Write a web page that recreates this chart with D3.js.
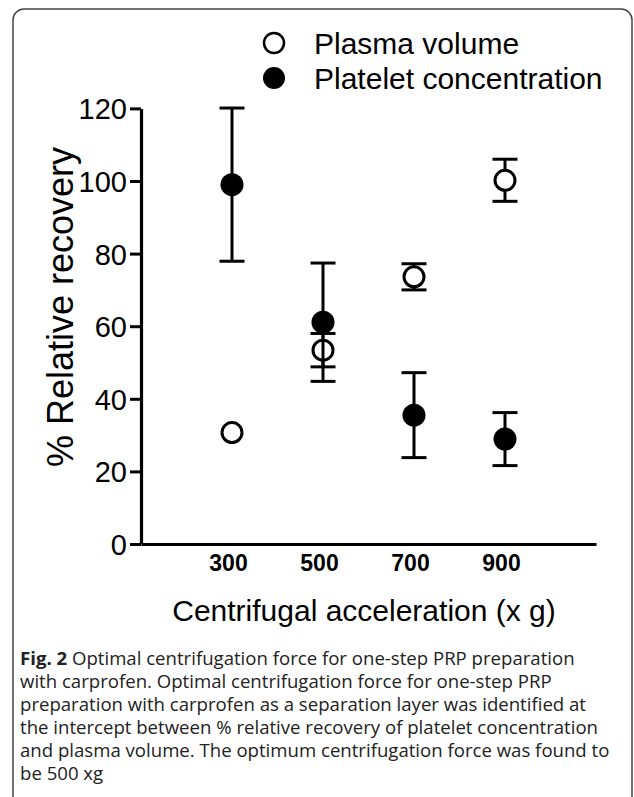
<!DOCTYPE html>
<html><head><meta charset="utf-8">
<script src="https://cdn.jsdelivr.net/npm/d3@7"></script>
<style>
html,body{margin:0;padding:0;background:#fff;}
svg{display:block;}
</style></head>
<body>
<svg id="chart" width="634" height="797"></svg>
<script>
// ---- data ----
const categories = [300, 500, 700, 900];
const plasmaMean = [30.7, 53.4, 73.6, 100.2];
const plasmaSD   = [0, 4.6, 3.6, 5.8];
const plateletMean = [99.0, 61.1, 35.5, 28.9];
const plateletSD   = [21.1, 16.3, 11.7, 7.3];
const yTicks = [0, 20, 40, 60, 80, 100, 120];
const seriesNames = ["Plasma volume", "Platelet concentration"];
const captionBold = "Fig. 2";
const captionLines = [
  " Optimal centrifugation force for one-step PRP preparation",
  "with carprofen. Optimal centrifugation force for one-step PRP",
  "preparation with carprofen as a separation layer was identified at",
  "the intercept between % relative recovery of platelet concentration",
  "and plasma volume. The optimum centrifugation force was found to",
  "be 500 xg"
];

const svg = d3.select("#chart");
const font = "'Liberation Sans', Arial, sans-serif";

// frame
svg.append("rect").attr("x", 13).attr("y", 9).attr("width", 619).attr("height", 800)
  .attr("rx", 11).attr("fill", "none").attr("stroke", "#444").attr("stroke-width", 1.5);

const x = d3.scaleLinear().domain([100, 1100]).range([141, 596]);
const y = d3.scaleLinear().domain([0, 120]).range([544, 108.4]);

// y axis
const yAxis = svg.append("g").attr("transform", "translate(141,0)")
  .call(d3.axisLeft(y).tickValues(yTicks).tickSize(11).tickPadding(3).tickSizeOuter(0));
yAxis.select(".domain").attr("stroke", "#000").attr("stroke-width", 3.2);
yAxis.selectAll(".tick line").attr("stroke", "#000").attr("stroke-width", 3);
yAxis.selectAll(".tick text").attr("font-family", font).attr("font-size", 29).attr("fill", "#000")
  .attr("dy", "0.36em");

// x axis
const xAxis = svg.append("g").attr("transform", "translate(0,544)")
  .call(d3.axisBottom(x).tickValues(categories).tickSize(0).tickPadding(11).tickSizeOuter(0));
xAxis.select(".domain").attr("stroke", "#000").attr("stroke-width", 3.2);
xAxis.selectAll(".tick text").attr("font-family", font).attr("font-size", 23)
  .attr("font-weight", "bold").attr("fill", "#000").attr("dx", -4);

// axis titles
svg.append("text").attr("x", 364).attr("y", 621).attr("text-anchor", "middle")
  .attr("font-family", font).attr("font-size", 30).attr("fill", "#000")
  .text("Centrifugal acceleration (x g)");
svg.append("text").attr("transform", "translate(73,307) rotate(-90)").attr("text-anchor", "middle")
  .attr("font-family", font).attr("font-size", 36).attr("fill", "#000")
  .text("% Relative recovery");

// series drawing
const capW = 12.5;
function drawSeries(means, sds, filled) {
  const g = svg.append("g");
  const data = categories.map((c, i) => ({c, m: means[i], s: sds[i]}));
  const eb = data.filter(d => d.s > 0);
  g.selectAll("line.v").data(eb).join("line")
    .attr("x1", d => x(d.c)).attr("x2", d => x(d.c))
    .attr("y1", d => y(d.m - d.s)).attr("y2", d => y(d.m + d.s))
    .attr("stroke", "#000").attr("stroke-width", 3);
  g.selectAll("line.t").data(eb).join("line")
    .attr("x1", d => x(d.c) - capW).attr("x2", d => x(d.c) + capW)
    .attr("y1", d => y(d.m + d.s)).attr("y2", d => y(d.m + d.s))
    .attr("stroke", "#000").attr("stroke-width", 3);
  g.selectAll("line.b").data(eb).join("line")
    .attr("x1", d => x(d.c) - capW).attr("x2", d => x(d.c) + capW)
    .attr("y1", d => y(d.m - d.s)).attr("y2", d => y(d.m - d.s))
    .attr("stroke", "#000").attr("stroke-width", 3);
  g.selectAll("circle").data(data).join("circle")
    .attr("cx", d => x(d.c)).attr("cy", d => y(d.m))
    .attr("r", filled ? 11.5 : 10)
    .attr("fill", filled ? "#000" : "#fff")
    .attr("stroke", "#000").attr("stroke-width", filled ? 0 : 3);
}
drawSeries(plasmaMean, plasmaSD, false);
drawSeries(plateletMean, plateletSD, true);

// legend
const leg = svg.append("g");
seriesNames.forEach((name, i) => {
  const cy = 43 + i * 35;
  leg.append("circle").attr("cx", 274).attr("cy", cy).attr("r", i === 0 ? 10 : 11)
    .attr("fill", i === 0 ? "#fff" : "#000").attr("stroke", "#000").attr("stroke-width", i === 0 ? 2.5 : 0);
  leg.append("text").attr("x", 314).attr("y", cy + 11).attr("font-family", font)
    .attr("font-size", 30).attr("fill", "#000").text(name);
});

// caption
const cap = svg.append("g");
captionLines.forEach((line, i) => {
  const t = cap.append("text").attr("x", 20).attr("y", 665 + i * 23)
    .attr("font-family", "'Open Sans', sans-serif").attr("font-size", 18.6).attr("fill", "#222");
  if (i === 0) {
    t.append("tspan").attr("font-weight", "bold").text(captionBold);
  }
  t.append("tspan").attr("xml:space", "preserve").style("white-space", "pre").text(line);
});
</script>
</body></html>
